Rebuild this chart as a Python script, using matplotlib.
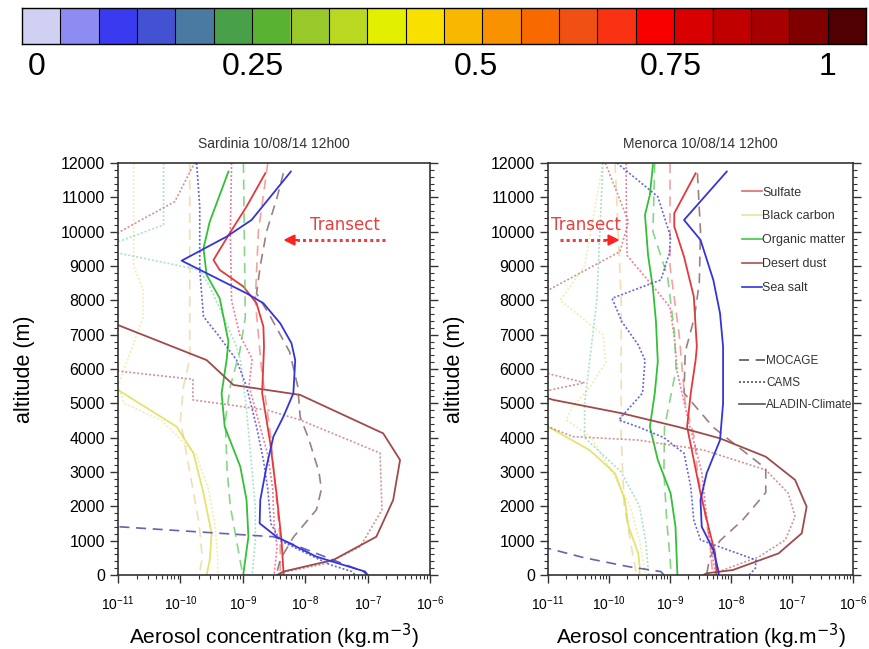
import numpy as np
import matplotlib
matplotlib.use("Agg")
import matplotlib.pyplot as plt
from matplotlib.colors import ListedColormap
from matplotlib.lines import Line2D
from matplotlib.ticker import MultipleLocator, LogLocator, NullFormatter

plt.rcParams['font.family'] = ['Liberation Sans', 'DejaVu Sans']

# ---------------- colour bar ----------------
cbar_colors = ['#d0d0f2', '#8c8cf2', '#3a3af0', '#4252d2', '#4a7aa2', '#48a048',
               '#5ab232', '#98c82a', '#bad822', '#e2f000', '#f8e000', '#f8b800',
               '#f89200', '#f86a00', '#f05012', '#f83212', '#f80000', '#d80000',
               '#c00000', '#a60000', '#800000', '#500000']
cbar_labels = ['0', '0.25', '0.5', '0.75', '1']
cbar_label_pos = [0.39, 6.02, 11.84, 16.92, 21.0]

species = ['Sulfate', 'Black carbon', 'Organic matter', 'Desert dust', 'Sea salt']
models = ['MOCAGE', 'CAMS', 'ALADIN-Climate']

# ---------------- Sardinia (log10 of kg/m3) ----------------
sar_su_aladin_alt = [11700, 10730, 9955, 9175, 8885, 8400, 7915, 7235, 6650, 5300, 3840, 2380, 1020, 150, 0]
sar_su_aladin_log = [-8.64, -8.94, -9.21, -9.47, -9.37, -8.99, -8.78, -8.67, -8.66, -8.69, -8.56, -8.46, -8.38, -8.35, -8.35]
sar_su_mocage_alt = [12000, 10000, 8000, 6000, 4000, 2000, 1000, 0]
sar_su_mocage_log = [-8.6, -8.75, -8.8, -8.7, -8.55, -8.45, -8.4, -8.4]
sar_su_cams_alt = [12000, 10000, 8000, 7000, 6300, 5500, 4500, 3500, 2500, 1500, 800, 0]
sar_su_cams_log = [-9.18, -9.2, -9.18, -9.05, -8.85, -8.9, -8.75, -8.6, -8.52, -8.5, -8.45, -8.5]

sar_bc_aladin_alt = [5600, 5390, 4320, 3545, 2380, 1215, 437, 0]
sar_bc_aladin_log = [-11.3, -11.0, -10.06, -9.79, -9.63, -9.50, -9.53, -9.58]
sar_bc_mocage_alt = [12000, 8300, 6300, 5500, 4500, 3500, 2500, 1500, 500, 0]
sar_bc_mocage_log = [-9.85, -9.85, -9.85, -9.95, -10.0, -9.9, -9.8, -9.7, -9.65, -9.7]
sar_bc_cams_alt = [12000, 9000, 8300, 7500, 6500, 5500, 5000, 4500, 3500, 2500, 1500, 500, 0]
sar_bc_cams_log = [-10.75, -10.75, -10.6, -10.6, -10.8, -11.0, -10.9, -10.3, -9.75, -9.55, -9.45, -9.4, -9.4]

sar_om_aladin_alt = [11750, 10290, 9515, 8740, 8060, 6800, 6260, 5290, 4320, 3155, 2185, 1115, 50, 0]
sar_om_aladin_log = [-9.23, -9.53, -9.63, -9.58, -9.37, -9.23, -9.26, -9.34, -9.29, -9.04, -8.94, -8.91, -8.99, -8.99]
sar_om_mocage_alt = [12000, 9000, 7500, 6500, 5500, 4500, 3000, 2000, 1000, 0]
sar_om_mocage_log = [-8.99, -8.97, -8.96, -9.05, -9.2, -9.28, -9.25, -9.2, -9.1, -9.0]
sar_om_cams_alt = [12000, 10200, 9700, 9380, 8885, 8400, 7525, 6650, 6260, 5000, 4000, 3000, 2000, 1000, 0]
sar_om_cams_log = [-10.27, -10.27, -11.0, -11.0, -9.69, -9.53, -9.31, -9.10, -9.04, -8.95, -8.9, -8.85, -8.8, -8.8, -8.85]

sar_du_aladin_alt = [7700, 7280, 6260, 5535, 5245, 4125, 3350, 2185, 1115, 437, 100, 0]
sar_du_aladin_log = [-11.2, -11.0, -9.58, -9.15, -8.08, -6.75, -6.48, -6.59, -6.86, -7.55, -8.35, -8.45]
sar_du_mocage_alt = [11700, 11000, 10000, 9000, 8200, 7500, 6500, 5500, 4600, 4000, 3000, 2500, 1900, 1100, 450, 100, 0]
sar_du_mocage_log = [-8.35, -8.45, -8.62, -8.72, -8.78, -8.55, -8.25, -8.12, -8.08, -7.95, -7.78, -7.74, -7.82, -8.19, -8.4, -8.45, -8.45]
sar_du_cams_alt = [12000, 11940, 10875, 10000, 9500, 6000, 5700, 5100, 4800, 4515, 3550, 1895, 825, 340, 100, 0]
sar_du_cams_log = [-9.75, -9.79, -10.09, -10.97, -11.3, -11.3, -9.8, -9.8, -8.6, -8.08, -6.80, -6.77, -7.12, -7.65, -8.30, -8.4]

sar_ss_aladin_alt = [11750, 10340, 9855, 9155, 8790, 8205, 7915, 7330, 6750, 6260, 5290, 4610, 4030, 3155, 2185, 1505, 1115, 533, 100, 0]
sar_ss_aladin_log = [-8.23, -8.86, -9.26, -9.98, -9.58, -8.94, -8.67, -8.40, -8.22, -8.16, -8.19, -8.35, -8.51, -8.62, -8.72, -8.73, -8.46, -7.82, -7.04, -7.0]
sar_ss_mocage_alt = [1600, 1407, 1165, 1115, 437, 100, 0]
sar_ss_mocage_log = [-11.5, -11.0, -8.94, -8.51, -7.55, -7.07, -7.0]
sar_ss_cams_alt = [12000, 10730, 8885, 7525, 7000, 6260, 5485, 4320, 3350, 2500, 1500, 1000, 300, 100, 0]
sar_ss_cams_log = [-9.74, -9.69, -9.69, -9.63, -9.4, -9.10, -8.94, -8.78, -8.67, -8.6, -8.55, -8.4, -7.6, -7.25, -7.2]

# ---------------- Menorca (log10 of kg/m3) ----------------
men_su_aladin_alt = [11700, 10535, 10150, 9270, 8110, 6650, 6260, 5290, 4320, 3350, 2380, 1407, 630, 145, 0]
men_su_aladin_log = [-8.58, -8.93, -8.93, -8.77, -8.61, -8.56, -8.58, -8.66, -8.72, -8.61, -8.50, -8.37, -8.26, -8.24, -8.24]
men_su_mocage_alt = [12000, 9000, 7000, 6000, 5000, 4000, 3000, 2000, 1000, 0]
men_su_mocage_log = [-9.0, -9.0, -8.85, -8.8, -8.75, -8.6, -8.55, -8.45, -8.35, -8.3]
men_su_cams_alt = [12000, 9700, 9300, 8350, 7800, 6800, 5900, 4500, 3000, 2000, 1000, 0]
men_su_cams_log = [-9.72, -9.71, -9.7, -9.25, -9.0, -8.92, -8.88, -8.7, -8.48, -8.42, -8.35, -8.25]

men_bc_aladin_alt = [4500, 4320, 3640, 2960, 2185, 1407, 630, 300, 0]
men_bc_aladin_log = [-11.3, -11.0, -10.32, -9.90, -9.74, -9.68, -9.52, -9.5, -9.5]
men_bc_mocage_alt = [12000, 8000, 6000, 4000, 2000, 1000, 0]
men_bc_mocage_log = [-9.9, -9.8, -9.8, -9.8, -9.75, -9.65, -9.55]
men_bc_cams_alt = [12000, 9000, 8000, 7000, 6200, 5500, 4900, 4515, 4030, 3000, 2000, 1000, 0]
men_bc_cams_log = [-10.1, -10.4, -10.8, -10.1, -10.05, -10.3, -10.6, -10.7, -10.3, -9.95, -9.65, -9.5, -9.4]

men_om_aladin_alt = [11940, 11070, 10490, 9320, 8350, 7380, 6215, 5290, 4320, 3350, 2380, 1407, 50, 0]
men_om_aladin_log = [-9.28, -9.33, -9.41, -9.36, -9.28, -9.23, -9.20, -9.25, -9.33, -9.20, -8.99, -8.91, -8.88, -8.88]
men_om_mocage_alt = [12000, 10000, 8700, 7100, 6000, 4300, 3000, 1500, 500, 0]
men_om_mocage_log = [-9.25, -9.28, -9.04, -8.93, -8.9, -9.09, -9.1, -9.05, -9.0, -8.98]
men_om_cams_alt = [12000, 8000, 5000, 4000, 3000, 2000, 1000, 0]
men_om_cams_log = [-10.1, -10.2, -10.4, -10.4, -9.8, -9.5, -9.4, -9.35]

men_du_aladin_alt = [5300, 5100, 4710, 4320, 3980, 3445, 2770, 1990, 1215, 630, 145, 50, 0]
men_du_aladin_log = [-11.3, -10.91, -9.79, -8.88, -8.18, -7.43, -6.95, -6.76, -6.84, -7.22, -7.97, -8.40, -8.45]
men_du_mocage_alt = [11700, 10000, 8500, 7500, 6500, 5300, 4300, 3100, 2400, 1600, 1000, 500, 0]
men_du_mocage_log = [-8.55, -8.5, -8.52, -8.6, -8.75, -8.77, -8.29, -7.43, -7.43, -7.81, -8.18, -8.35, -8.4]
men_du_cams_alt = [12000, 10290, 9420, 8350, 8000, 6000, 5600, 5300, 4600, 4320, 4030, 3930, 3640, 3060, 2380, 1700, 1020, 533, 145, 0]
men_du_cams_log = [-10.06, -9.68, -9.82, -10.94, -11.3, -11.3, -10.4, -11.2, -11.3, -11.0, -10.59, -9.52, -8.45, -7.43, -7.06, -6.95, -7.11, -7.54, -8.13, -8.3]

men_ss_aladin_alt = [11750, 10340, 9760, 8595, 7625, 6650, 5000, 3930, 2960, 2185, 1407, 730, 145, 0]
men_ss_aladin_log = [-8.07, -8.77, -8.50, -8.29, -8.18, -8.13, -8.13, -8.18, -8.40, -8.50, -8.48, -8.29, -8.21, -8.2]
men_ss_mocage_alt = [0, 100, 243, 500, 777, 900]
men_ss_mocage_log = [-9.1, -9.15, -9.68, -10.4, -11.0, -11.3]
men_ss_cams_alt = [12000, 11020, 9855, 9370, 8595, 8060, 7380, 6700, 6260, 5300, 4700, 4515, 4300, 4000, 3545, 2570, 1600, 1020, 437, 200, 0]
men_ss_cams_log = [-9.87, -9.20, -8.99, -9.01, -9.15, -9.95, -9.79, -9.52, -9.41, -9.45, -9.75, -9.84, -9.5, -9.1, -8.77, -8.66, -8.61, -8.50, -7.59, -7.6, -7.7]

# ---------------- styles ----------------
line_colors = {
    ('Sulfate', 'ALADIN-Climate'): ('#e23a3a', 1.0),
    ('Sulfate', 'MOCAGE'): ('#f07a7a', 0.7),
    ('Sulfate', 'CAMS'): ('#f0507a', 0.75),
    ('Black carbon', 'ALADIN-Climate'): ('#dada40', 0.75),
    ('Black carbon', 'MOCAGE'): ('#e8c880', 0.6),
    ('Black carbon', 'CAMS'): ('#e8e080', 0.6),
    ('Organic matter', 'ALADIN-Climate'): ('#34c034', 1.0),
    ('Organic matter', 'MOCAGE'): ('#60c860', 0.75),
    ('Organic matter', 'CAMS'): ('#70d0a0', 0.6),
    ('Desert dust', 'ALADIN-Climate'): ('#a04a4a', 1.0),
    ('Desert dust', 'MOCAGE'): ('#8a6a6a', 0.85),
    ('Desert dust', 'CAMS'): ('#c07070', 0.75),
    ('Sea salt', 'ALADIN-Climate'): ('#3434dc', 1.0),
    ('Sea salt', 'MOCAGE'): ('#4848a8', 0.85),
    ('Sea salt', 'CAMS'): ('#4a4ad8', 0.85),
}
model_ls = {'MOCAGE': (0, (6, 4)), 'CAMS': (0, (1.2, 1.2)), 'ALADIN-Climate': '-'}
legend_colors = {'Sulfate': '#e06a6a', 'Black carbon': '#e8e4a0', 'Organic matter': '#40c840',
                 'Desert dust': '#a85050', 'Sea salt': '#3434dc'}

sar_data = {
    'Sulfate': {'MOCAGE': (sar_su_mocage_alt, sar_su_mocage_log), 'CAMS': (sar_su_cams_alt, sar_su_cams_log), 'ALADIN-Climate': (sar_su_aladin_alt, sar_su_aladin_log)},
    'Black carbon': {'MOCAGE': (sar_bc_mocage_alt, sar_bc_mocage_log), 'CAMS': (sar_bc_cams_alt, sar_bc_cams_log), 'ALADIN-Climate': (sar_bc_aladin_alt, sar_bc_aladin_log)},
    'Organic matter': {'MOCAGE': (sar_om_mocage_alt, sar_om_mocage_log), 'CAMS': (sar_om_cams_alt, sar_om_cams_log), 'ALADIN-Climate': (sar_om_aladin_alt, sar_om_aladin_log)},
    'Desert dust': {'MOCAGE': (sar_du_mocage_alt, sar_du_mocage_log), 'CAMS': (sar_du_cams_alt, sar_du_cams_log), 'ALADIN-Climate': (sar_du_aladin_alt, sar_du_aladin_log)},
    'Sea salt': {'MOCAGE': (sar_ss_mocage_alt, sar_ss_mocage_log), 'CAMS': (sar_ss_cams_alt, sar_ss_cams_log), 'ALADIN-Climate': (sar_ss_aladin_alt, sar_ss_aladin_log)},
}
men_data = {
    'Sulfate': {'MOCAGE': (men_su_mocage_alt, men_su_mocage_log), 'CAMS': (men_su_cams_alt, men_su_cams_log), 'ALADIN-Climate': (men_su_aladin_alt, men_su_aladin_log)},
    'Black carbon': {'MOCAGE': (men_bc_mocage_alt, men_bc_mocage_log), 'CAMS': (men_bc_cams_alt, men_bc_cams_log), 'ALADIN-Climate': (men_bc_aladin_alt, men_bc_aladin_log)},
    'Organic matter': {'MOCAGE': (men_om_mocage_alt, men_om_mocage_log), 'CAMS': (men_om_cams_alt, men_om_cams_log), 'ALADIN-Climate': (men_om_aladin_alt, men_om_aladin_log)},
    'Desert dust': {'MOCAGE': (men_du_mocage_alt, men_du_mocage_log), 'CAMS': (men_du_cams_alt, men_du_cams_log), 'ALADIN-Climate': (men_du_aladin_alt, men_du_aladin_log)},
    'Sea salt': {'MOCAGE': (men_ss_mocage_alt, men_ss_mocage_log), 'CAMS': (men_ss_cams_alt, men_ss_cams_log), 'ALADIN-Climate': (men_ss_aladin_alt, men_ss_aladin_log)},
}

fig = plt.figure(figsize=(8.69, 6.49), dpi=100)

# colour bar
cax = fig.add_axes([22 / 869, 1 - 44 / 649, 844 / 869, 36 / 649])
cmap = ListedColormap(cbar_colors)
cax.imshow(np.arange(len(cbar_colors))[None, :], cmap=cmap, aspect='auto',
           extent=(0, len(cbar_colors), 0, 1), interpolation='nearest')
for i in range(1, len(cbar_colors)):
    cax.axvline(i, color='black', lw=0.8)
cax.set_xlim(0, len(cbar_colors))
cax.set_yticks([])
cax.set_xticks(cbar_label_pos)
cax.set_xticklabels(cbar_labels, fontsize=23)
cax.tick_params(axis='x', length=0, pad=6)
for s in cax.spines.values():
    s.set_linewidth(1.0)


def draw_panel(ax, data, title, transect_dir):
    for sp in species:
        for m in models:
            alt, lg = data[sp][m]
            col, a = line_colors[(sp, m)]
            lw = 1.3 if m == 'ALADIN-Climate' else 1.2
            ax.plot(10 ** np.array(lg, dtype=float), alt, color=col, alpha=a,
                    linestyle=model_ls[m], lw=lw)
    ax.set_xscale('log')
    ax.set_xlim(1e-11, 1e-6)
    ax.set_ylim(0, 12000)
    ax.yaxis.set_major_locator(MultipleLocator(1000))
    ax.yaxis.set_minor_locator(MultipleLocator(200))
    ax.xaxis.set_major_locator(LogLocator(base=10, numticks=10))
    ax.xaxis.set_minor_locator(LogLocator(base=10, subs=np.arange(2, 10), numticks=20))
    ax.xaxis.set_minor_formatter(NullFormatter())
    ax.tick_params(axis='both', which='major', direction='out', length=6, width=1.0,
                   color='#333333', labelsize=11.5, right=True, top=False)
    ax.tick_params(axis='both', which='minor', direction='out', length=3, width=0.8,
                   color='#333333', right=True, top=False)
    ax.tick_params(axis='x', which='major', labelsize=10, pad=8)
    for s in ax.spines.values():
        s.set_linewidth(1.2)
        s.set_color('#333333')
    ax.set_title(title, fontsize=10, color='#333333', pad=11)
    ax.set_ylabel('altitude (m)', fontsize=15.5, labelpad=18)
    ax.set_xlabel('Aerosol concentration (kg.m$^{-3}$)', fontsize=15, labelpad=6)
    # transect marker
    if transect_dir == 'left':
        tx, x0, x1 = 0.728, 0.856, 0.575
    else:
        tx, x0, x1 = 0.125, 0.04, 0.19
    ax.text(tx, 0.85, 'Transect', transform=ax.transAxes, ha='center', va='center',
            fontsize=12, color='#e84040', family=['DejaVu Sans'])
    ax.plot([x0, x1], [0.813, 0.813], transform=ax.transAxes, color='#e84040',
            lw=2.2, linestyle=(0, (1, 1)))
    d = 1 if x1 > x0 else -1
    ax.annotate('', xy=(x1 + d * 0.045, 0.813), xytext=(x1, 0.813),
                xycoords='axes fraction', textcoords='axes fraction',
                arrowprops=dict(arrowstyle='-|>', color='#ff2020', lw=1.5,
                                mutation_scale=16, shrinkA=0, shrinkB=0))


axL = fig.add_axes([118 / 869, 1 - 575 / 649, 312 / 869, 412 / 649])
axR = fig.add_axes([548 / 869, 1 - 575 / 649, 305 / 869, 412 / 649])
draw_panel(axL, sar_data, 'Sardinia 10/08/14 12h00', 'left')
draw_panel(axR, men_data, 'Menorca 10/08/14 12h00', 'right')

# legends on the right panel
sp_handles = [Line2D([0], [0], color=legend_colors[s], lw=1.2) for s in species]
leg1 = axR.legend(sp_handles, species, loc='upper left', bbox_to_anchor=(0.62, 0.955),
                  frameon=False, fontsize=9, handlelength=1.6, handletextpad=0.0,
                  labelspacing=0.95, borderaxespad=0)
for t in leg1.get_texts():
    t.set_color('#333333')
axR.add_artist(leg1)
md_handles = [Line2D([0], [0], color='#555555', lw=1.2, linestyle=model_ls[m]) for m in models]
leg2 = axR.legend(md_handles, models, loc='upper left', bbox_to_anchor=(0.61, 0.545),
                  frameon=False, fontsize=8.5, handlelength=2.2, handletextpad=0.1,
                  labelspacing=0.85, borderaxespad=0)
for t in leg2.get_texts():
    t.set_color('#333333')

fig.savefig('out.png', dpi=100)
